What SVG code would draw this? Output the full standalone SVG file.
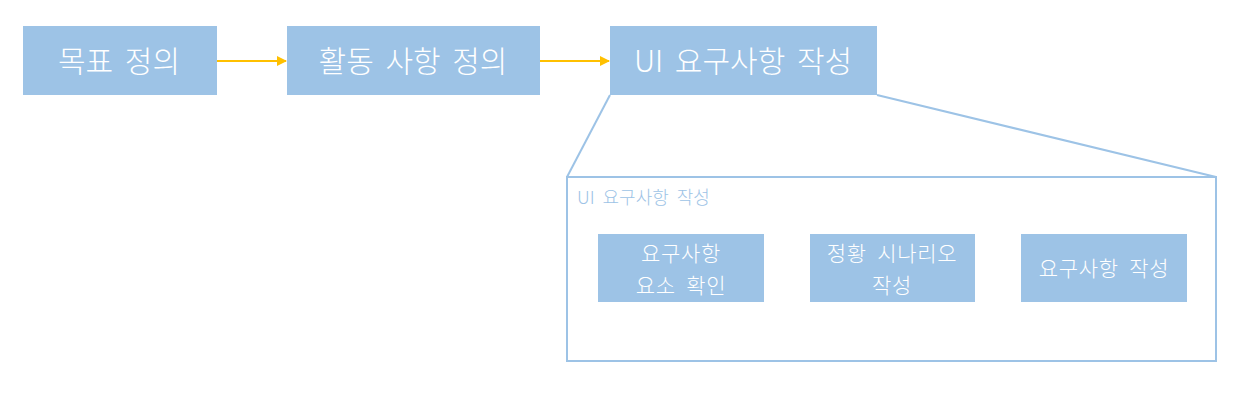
<svg xmlns="http://www.w3.org/2000/svg" width="1241" height="400" viewBox="0 0 1241 400">
<style>
.box{fill:#9DC3E6;}
.t{font-family:"Noto Sans CJK KR","Noto Sans",sans-serif;font-weight:300;fill:#FFFFFF;text-anchor:middle;dominant-baseline:central;}
.big{font-size:30px;word-spacing:5px;}
.sm{font-size:21px;letter-spacing:0.7px;word-spacing:5px;}
.conn{stroke:#FFC000;stroke-width:2;fill:none;}
.zoom{stroke:#9DC3E6;stroke-width:2;fill:none;}
</style>
<defs>
<marker id="ah" markerWidth="10" markerHeight="10" refX="9" refY="5" orient="auto" markerUnits="userSpaceOnUse">
<path d="M0,0 L10,5 L0,10 z" fill="#FFC000"/>
</marker>
</defs>
<rect width="1241" height="400" fill="#FFFFFF"/>
<g id="connectors">
<line class="conn" x1="217" y1="61" x2="286" y2="61" marker-end="url(#ah)"/>
<line class="conn" x1="540" y1="61" x2="609" y2="61" marker-end="url(#ah)"/>
<line class="zoom" x1="610" y1="95" x2="567" y2="177"/>
<line class="zoom" x1="877" y1="95" x2="1216" y2="177"/>
</g>
<g id="node1"><rect class="box" x="23" y="26" width="194" height="69"/><text class="t big" x="119" y="59">목표 정의</text></g>
<g id="node2"><rect class="box" x="287" y="26" width="253" height="69"/><text class="t big" x="413" y="59">활동 사항 정의</text></g>
<g id="node3"><rect class="box" x="610" y="26" width="267" height="69"/><text class="t big" x="743" y="59">UI 요구사항 작성</text></g>
<g id="detail">
<rect class="zoom" x="567" y="177" width="649" height="184"/>
<text x="577" y="196" font-family="'Noto Sans CJK KR','Noto Sans',sans-serif" font-weight="300" font-size="18" word-spacing="4" fill="#9DC3E6" dominant-baseline="central">UI 요구사항 작성</text>
</g>
<g id="sub1"><rect class="box" x="598" y="234" width="166" height="68"/><text class="t sm" x="681" y="252">요구사항</text><text class="t sm" x="681" y="283.5">요소 확인</text></g>
<g id="sub2"><rect class="box" x="810" y="234" width="165" height="68"/><text class="t sm" x="892" y="252">정황 시나리오</text><text class="t sm" x="892" y="283.5">작성</text></g>
<g id="sub3"><rect class="box" x="1021" y="234" width="166" height="68"/><text class="t sm" x="1104" y="267">요구사항 작성</text></g>
</svg>
